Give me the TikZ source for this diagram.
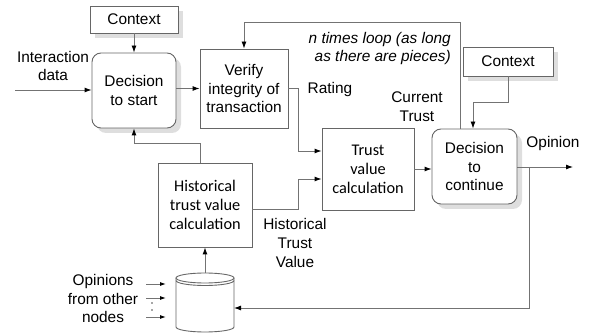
\documentclass[tikz,border=0pt]{standalone}
\usepackage{fontspec}
\setmainfont{Liberation Sans}
\newfontfamily\calib{Carlito}
\usetikzlibrary{arrows.meta,shadows}
\begin{document}
\begin{tikzpicture}[x=1pt,y=-1pt,
  line/.style={draw=black!55, line width=0.9pt},
  arr/.style={line, -{Latex[length=7pt,width=5pt,black]}},
  box/.style={draw=black!60, line width=0.9pt, fill=white, align=center, inner sep=0pt, font=\fontsize{15.4}{18.8}\selectfont},
  cbox/.style={box, font=\calib\fontsize{16.3}{19}\selectfont},
  shad/.style={drop shadow={shadow xshift=5pt, shadow yshift=-5pt, fill=black!13, opacity=1}},
  lbl/.style={align=center, inner sep=0pt, font=\fontsize{15.4}{18.8}\selectfont},
]
\useasboundingbox (0,0) rectangle (590,334);

% boxes
\node[box, shad, minimum width=88, minimum height=27] (ctx1) at (134,19.5) {Context};
\node[box, shad, rounded corners=9pt, minimum width=84, minimum height=75] (dstart) at (134,90.5) {Decision\\to start};
\node[box, minimum width=88, minimum height=79] (verify) at (244,88.5) {Verify\\integrity of\\transaction};
\node[cbox, minimum width=92, minimum height=82] (trust) at (368,169) {Trust\\value\\calculation};
\node[box, shad, rounded corners=9pt, minimum width=85, minimum height=75] (dcont) at (474.5,166.5) {Decision\\to\\continue};
\node[box, shad, minimum width=90, minimum height=29] (ctx2) at (508,61.5) {Context};
\node[cbox, minimum width=94, minimum height=84] (hist) at (205,205) {Historical\\trust value\\calculation};

% database
\node[minimum width=58, minimum height=59, inner sep=0pt] (db) at (205,302.5) {};
\filldraw[draw=black!60, fill=white, line width=0.9pt] (176,278) -- (176,327) arc[start angle=180, end angle=0, x radius=29, y radius=5] -- (234,278);
\filldraw[draw=black!60, fill=white, line width=0.9pt] (205,278) ellipse[x radius=29, y radius=5];
\draw[draw=black!60, line width=0.9pt] (176,280.5) arc[start angle=180, end angle=0, x radius=29, y radius=5];

% labels
\node[lbl] (lint) at (53,66) {Interaction\\data};
\node[lbl] (lrat) at (330,90) {Rating};
\node[lbl] (lcur) at (417,107) {Current\\Trust};
\node[lbl] (lop) at (553,144) {Opinion};
\node[lbl] (lhist) at (295,243) {Historical\\Trust\\Value};
\node[lbl, font=\itshape\fontsize{15.4}{17.5}\selectfont, align=right, anchor=east] (lloop) at (451,48.5) {n times loop (as long\\as there are pieces)};
\node[lbl] (lopin) at (103,298.5) {Opinions\\from other\\nodes};

% connectors
\coordinate (inL) at (15,90);
\draw[arr] (inL) -- (inL -| dstart.west);
\draw[arr] (ctx1.south) -- (dstart.north);
\draw[arr] (dstart.east |- verify.west) -- (verify.west);
\coordinate (loopy) at (0,22);
\draw[arr] ([xshift=-14.5pt]dcont.north) |- (verify.north |- loopy) -- (verify.north);
\draw[arr] (verify.east) -- ++(10,0) |- ([yshift=18pt]trust.west);
\draw[arr] ([yshift=-4pt]hist.east) -- ++(46,0) |- ([yshift=-10pt]trust.west);
\draw[arr] ([xshift=-5pt]hist.north) -- ++(0,-19) -| (dstart.south);
\draw[arr] (trust.east) -- (trust.east -| dcont.west);
\draw[arr] (ctx2.south) -- ++(0,26) -| ([xshift=-1.5pt]dcont.north);
\coordinate (opend) at (573,167);
\draw[arr] (dcont.east |- opend) -- (opend);
\coordinate (split) at (529,167);
\coordinate (dbin) at (234,308);
\draw[arr] (split) |- (dbin);
\draw[arr] (db.north) -- (hist.south);

\foreach \y [count=\i] in {284,298,317} {
  \coordinate (os\i) at (146,\y);
  \coordinate (oe\i) at (166,\y);
  \draw[line, -{Latex[length=6pt,width=4pt,black]}] (os\i) -- (oe\i);
}
\fill[black!70] (152,303) circle (0.9);
\fill[black!70] (152,310) circle (0.9);
\end{tikzpicture}
\end{document}
